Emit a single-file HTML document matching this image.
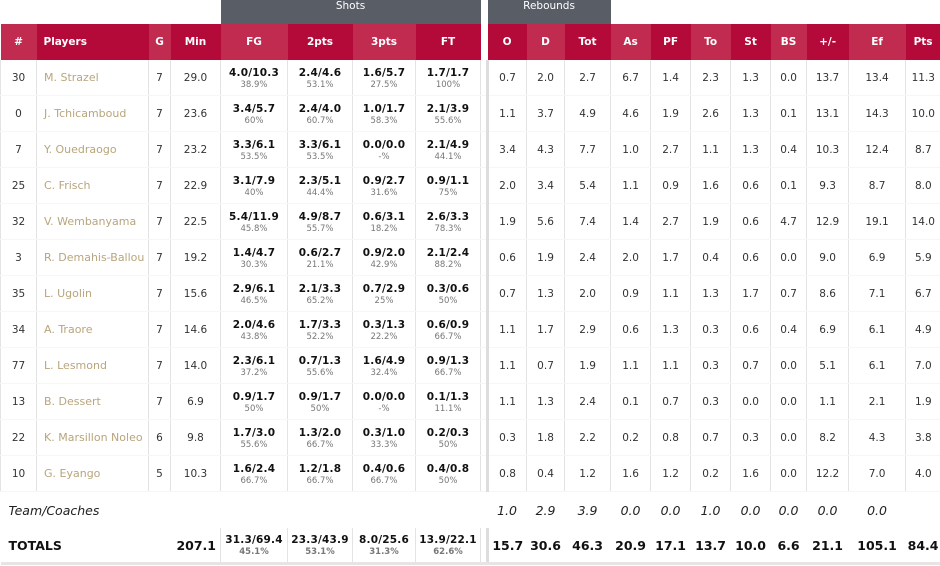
<!DOCTYPE html>
<html><head><meta charset="utf-8"><style>
body{margin:0;width:940px;height:566px;background:#fff;font-family:"DejaVu Sans",Verdana,sans-serif;overflow:hidden;position:relative}
table{border-collapse:collapse;table-layout:fixed;position:absolute;left:0;top:0;width:940px}
td,th{padding:0;text-align:center;font-size:10.5px;color:#333;white-space:nowrap;overflow:hidden}
tr.grp td{height:24px}
.g{background:#595e66;color:#fff;font-weight:normal;font-size:10.5px;vertical-align:top;padding-top:0px}
tr.hd th{height:36px;background:#b40a3a;color:#fff;font-weight:bold;font-size:10.5px}
tr.hd th.l{background:#c22b50}
tr.b td{height:35px;border-left:1px solid #e3e3e3;border-bottom:1px solid #f6f6f6}
td.n{text-align:left;padding-left:7px;color:#b8a57c;font-size:11px}
.s b{display:block;font-size:10.5px;color:#111;letter-spacing:.2px;margin-top:1px}
.s i{display:block;font-style:normal;font-size:8.5px;color:#777;margin-top:1px}
td.gap{border-left:1px solid #e3e3e3!important;border-right:3px solid #ddd;background:#fff}
tr.team td{height:36px;font-style:italic;font-size:12.5px;color:#222}
tr.tot td{height:34px;font-weight:bold;font-size:12.5px;color:#111;border-bottom:3px solid #e5e5e5}
tr.tot td.s{border-left:1px solid #e3e3e3}
</style></head><body>
<table>
<colgroup><col style="width:36px"><col style="width:112px"><col style="width:22px"><col style="width:50px"><col style="width:67px"><col style="width:65px"><col style="width:63px"><col style="width:65px"><col style="width:7px"><col style="width:39px"><col style="width:38px"><col style="width:46px"><col style="width:40px"><col style="width:40px"><col style="width:40px"><col style="width:40px"><col style="width:36px"><col style="width:42px"><col style="width:57px"><col style="width:35px"></colgroup>
<tr class="grp"><td colspan="4"></td><td colspan="4" class="g">Shots</td><td></td><td colspan="3" class="g">Rebounds</td><td colspan="8"></td></tr>
<tr class="hd"><th class="l">#</th><th style="text-align:left;padding-left:7px">Players</th><th class="l">G</th><th>Min</th><th class="l">FG</th><th>2pts</th><th class="l">3pts</th><th>FT</th><th style="background:#fff"></th><th>O</th><th class="l">D</th><th>Tot</th><th class="l">As</th><th>PF</th><th class="l">To</th><th>St</th><th class="l">BS</th><th>+/-</th><th class="l">Ef</th><th>Pts</th></tr>
<tr class="b"><td>30</td><td class="n">M. Strazel</td><td>7</td><td>29.0</td><td class="s"><b>4.0/10.3</b><i>38.9%</i></td><td class="s"><b>2.4/4.6</b><i>53.1%</i></td><td class="s"><b>1.6/5.7</b><i>27.5%</i></td><td class="s"><b>1.7/1.7</b><i>100%</i></td><td class="gap"></td><td>0.7</td><td>2.0</td><td>2.7</td><td>6.7</td><td>1.4</td><td>2.3</td><td>1.3</td><td>0.0</td><td>13.7</td><td>13.4</td><td>11.3</td></tr>
<tr class="b"><td>0</td><td class="n">J. Tchicamboud</td><td>7</td><td>23.6</td><td class="s"><b>3.4/5.7</b><i>60%</i></td><td class="s"><b>2.4/4.0</b><i>60.7%</i></td><td class="s"><b>1.0/1.7</b><i>58.3%</i></td><td class="s"><b>2.1/3.9</b><i>55.6%</i></td><td class="gap"></td><td>1.1</td><td>3.7</td><td>4.9</td><td>4.6</td><td>1.9</td><td>2.6</td><td>1.3</td><td>0.1</td><td>13.1</td><td>14.3</td><td>10.0</td></tr>
<tr class="b"><td>7</td><td class="n">Y. Ouedraogo</td><td>7</td><td>23.2</td><td class="s"><b>3.3/6.1</b><i>53.5%</i></td><td class="s"><b>3.3/6.1</b><i>53.5%</i></td><td class="s"><b>0.0/0.0</b><i>-%</i></td><td class="s"><b>2.1/4.9</b><i>44.1%</i></td><td class="gap"></td><td>3.4</td><td>4.3</td><td>7.7</td><td>1.0</td><td>2.7</td><td>1.1</td><td>1.3</td><td>0.4</td><td>10.3</td><td>12.4</td><td>8.7</td></tr>
<tr class="b"><td>25</td><td class="n">C. Frisch</td><td>7</td><td>22.9</td><td class="s"><b>3.1/7.9</b><i>40%</i></td><td class="s"><b>2.3/5.1</b><i>44.4%</i></td><td class="s"><b>0.9/2.7</b><i>31.6%</i></td><td class="s"><b>0.9/1.1</b><i>75%</i></td><td class="gap"></td><td>2.0</td><td>3.4</td><td>5.4</td><td>1.1</td><td>0.9</td><td>1.6</td><td>0.6</td><td>0.1</td><td>9.3</td><td>8.7</td><td>8.0</td></tr>
<tr class="b"><td>32</td><td class="n">V. Wembanyama</td><td>7</td><td>22.5</td><td class="s"><b>5.4/11.9</b><i>45.8%</i></td><td class="s"><b>4.9/8.7</b><i>55.7%</i></td><td class="s"><b>0.6/3.1</b><i>18.2%</i></td><td class="s"><b>2.6/3.3</b><i>78.3%</i></td><td class="gap"></td><td>1.9</td><td>5.6</td><td>7.4</td><td>1.4</td><td>2.7</td><td>1.9</td><td>0.6</td><td>4.7</td><td>12.9</td><td>19.1</td><td>14.0</td></tr>
<tr class="b"><td>3</td><td class="n">R. Demahis-Ballou</td><td>7</td><td>19.2</td><td class="s"><b>1.4/4.7</b><i>30.3%</i></td><td class="s"><b>0.6/2.7</b><i>21.1%</i></td><td class="s"><b>0.9/2.0</b><i>42.9%</i></td><td class="s"><b>2.1/2.4</b><i>88.2%</i></td><td class="gap"></td><td>0.6</td><td>1.9</td><td>2.4</td><td>2.0</td><td>1.7</td><td>0.4</td><td>0.6</td><td>0.0</td><td>9.0</td><td>6.9</td><td>5.9</td></tr>
<tr class="b"><td>35</td><td class="n">L. Ugolin</td><td>7</td><td>15.6</td><td class="s"><b>2.9/6.1</b><i>46.5%</i></td><td class="s"><b>2.1/3.3</b><i>65.2%</i></td><td class="s"><b>0.7/2.9</b><i>25%</i></td><td class="s"><b>0.3/0.6</b><i>50%</i></td><td class="gap"></td><td>0.7</td><td>1.3</td><td>2.0</td><td>0.9</td><td>1.1</td><td>1.3</td><td>1.7</td><td>0.7</td><td>8.6</td><td>7.1</td><td>6.7</td></tr>
<tr class="b"><td>34</td><td class="n">A. Traore</td><td>7</td><td>14.6</td><td class="s"><b>2.0/4.6</b><i>43.8%</i></td><td class="s"><b>1.7/3.3</b><i>52.2%</i></td><td class="s"><b>0.3/1.3</b><i>22.2%</i></td><td class="s"><b>0.6/0.9</b><i>66.7%</i></td><td class="gap"></td><td>1.1</td><td>1.7</td><td>2.9</td><td>0.6</td><td>1.3</td><td>0.3</td><td>0.6</td><td>0.4</td><td>6.9</td><td>6.1</td><td>4.9</td></tr>
<tr class="b"><td>77</td><td class="n">L. Lesmond</td><td>7</td><td>14.0</td><td class="s"><b>2.3/6.1</b><i>37.2%</i></td><td class="s"><b>0.7/1.3</b><i>55.6%</i></td><td class="s"><b>1.6/4.9</b><i>32.4%</i></td><td class="s"><b>0.9/1.3</b><i>66.7%</i></td><td class="gap"></td><td>1.1</td><td>0.7</td><td>1.9</td><td>1.1</td><td>1.1</td><td>0.3</td><td>0.7</td><td>0.0</td><td>5.1</td><td>6.1</td><td>7.0</td></tr>
<tr class="b"><td>13</td><td class="n">B. Dessert</td><td>7</td><td>6.9</td><td class="s"><b>0.9/1.7</b><i>50%</i></td><td class="s"><b>0.9/1.7</b><i>50%</i></td><td class="s"><b>0.0/0.0</b><i>-%</i></td><td class="s"><b>0.1/1.3</b><i>11.1%</i></td><td class="gap"></td><td>1.1</td><td>1.3</td><td>2.4</td><td>0.1</td><td>0.7</td><td>0.3</td><td>0.0</td><td>0.0</td><td>1.1</td><td>2.1</td><td>1.9</td></tr>
<tr class="b"><td>22</td><td class="n">K. Marsillon Noleo</td><td>6</td><td>9.8</td><td class="s"><b>1.7/3.0</b><i>55.6%</i></td><td class="s"><b>1.3/2.0</b><i>66.7%</i></td><td class="s"><b>0.3/1.0</b><i>33.3%</i></td><td class="s"><b>0.2/0.3</b><i>50%</i></td><td class="gap"></td><td>0.3</td><td>1.8</td><td>2.2</td><td>0.2</td><td>0.8</td><td>0.7</td><td>0.3</td><td>0.0</td><td>8.2</td><td>4.3</td><td>3.8</td></tr>
<tr class="b"><td>10</td><td class="n">G. Eyango</td><td>5</td><td>10.3</td><td class="s"><b>1.6/2.4</b><i>66.7%</i></td><td class="s"><b>1.2/1.8</b><i>66.7%</i></td><td class="s"><b>0.4/0.6</b><i>66.7%</i></td><td class="s"><b>0.4/0.8</b><i>50%</i></td><td class="gap"></td><td>0.8</td><td>0.4</td><td>1.2</td><td>1.6</td><td>1.2</td><td>0.2</td><td>1.6</td><td>0.0</td><td>12.2</td><td>7.0</td><td>4.0</td></tr>
<tr class="team"><td colspan="4" style="text-align:left;padding-left:8px">Team/Coaches</td><td></td><td></td><td></td><td></td><td></td><td>1.0</td><td>2.9</td><td>3.9</td><td>0.0</td><td>0.0</td><td>1.0</td><td>0.0</td><td>0.0</td><td>0.0</td><td>0.0</td><td></td></tr>
<tr class="tot"><td colspan="3" style="text-align:left;padding-left:8px">TOTALS</td><td style="text-align:right;padding-right:4px">207.1</td><td class="s"><b>31.3/69.4</b><i>45.1%</i></td><td class="s"><b>23.3/43.9</b><i>53.1%</i></td><td class="s"><b>8.0/25.6</b><i>31.3%</i></td><td class="s"><b>13.9/22.1</b><i>62.6%</i></td><td class="gap"></td><td>15.7</td><td>30.6</td><td>46.3</td><td>20.9</td><td>17.1</td><td>13.7</td><td>10.0</td><td>6.6</td><td>21.1</td><td>105.1</td><td>84.4</td></tr>
</table>
</body></html>
